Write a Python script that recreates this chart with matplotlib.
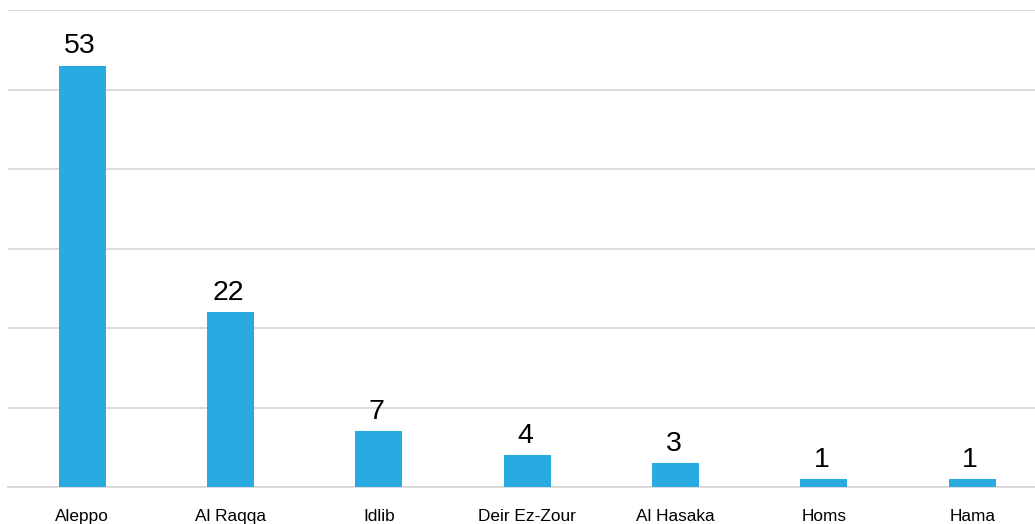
import matplotlib
matplotlib.use("Agg")
import matplotlib.pyplot as plt

categories = ["Aleppo", "Al Raqqa", "Idlib", "Deir Ez-Zour", "Al Hasaka", "Homs", "Hama"]
values = [53, 22, 7, 4, 3, 1, 1]

plt.rcParams['font.family'] = ['Liberation Sans', 'DejaVu Sans']

W, H = 1035, 524
fig = plt.figure(figsize=(W / 100, H / 100), dpi=100)
left = 8 / W
width = 148.33 * 7 / W
bottom = (H - 487) / H
height = (487 - 10) / H
ax = fig.add_axes([left, bottom, width, height])

x = list(range(len(categories)))
bars = ax.bar(x, values, width=0.315, color="#29abe2", zorder=3)
ax.set_xlim(-0.5, len(categories) - 0.5)
ax.set_ylim(0, 60)
ax.set_yticks(range(0, 61, 10))
ax.yaxis.grid(True, color="#d9d9d9", linewidth=1.3, zorder=0)
ax.tick_params(axis="y", length=0, labelleft=False)
ax.tick_params(axis="x", length=0, pad=16, labelsize=12.4, colors="#000000")
ax.set_xticks(x)
ax.set_xticklabels(categories)
for s in ["top", "right", "left"]:
    ax.spines[s].set_visible(False)
ax.spines["bottom"].set_color("#d9d9d9")
ax.spines["bottom"].set_linewidth(1.3)

for xi, v in zip(x, values):
    ax.annotate(str(v), (xi, v), xytext=(-1.5, 4.5), textcoords="offset points",
                ha="center", va="bottom", fontsize=20.5, color="#000000")

fig.savefig("out.png", dpi=100)
